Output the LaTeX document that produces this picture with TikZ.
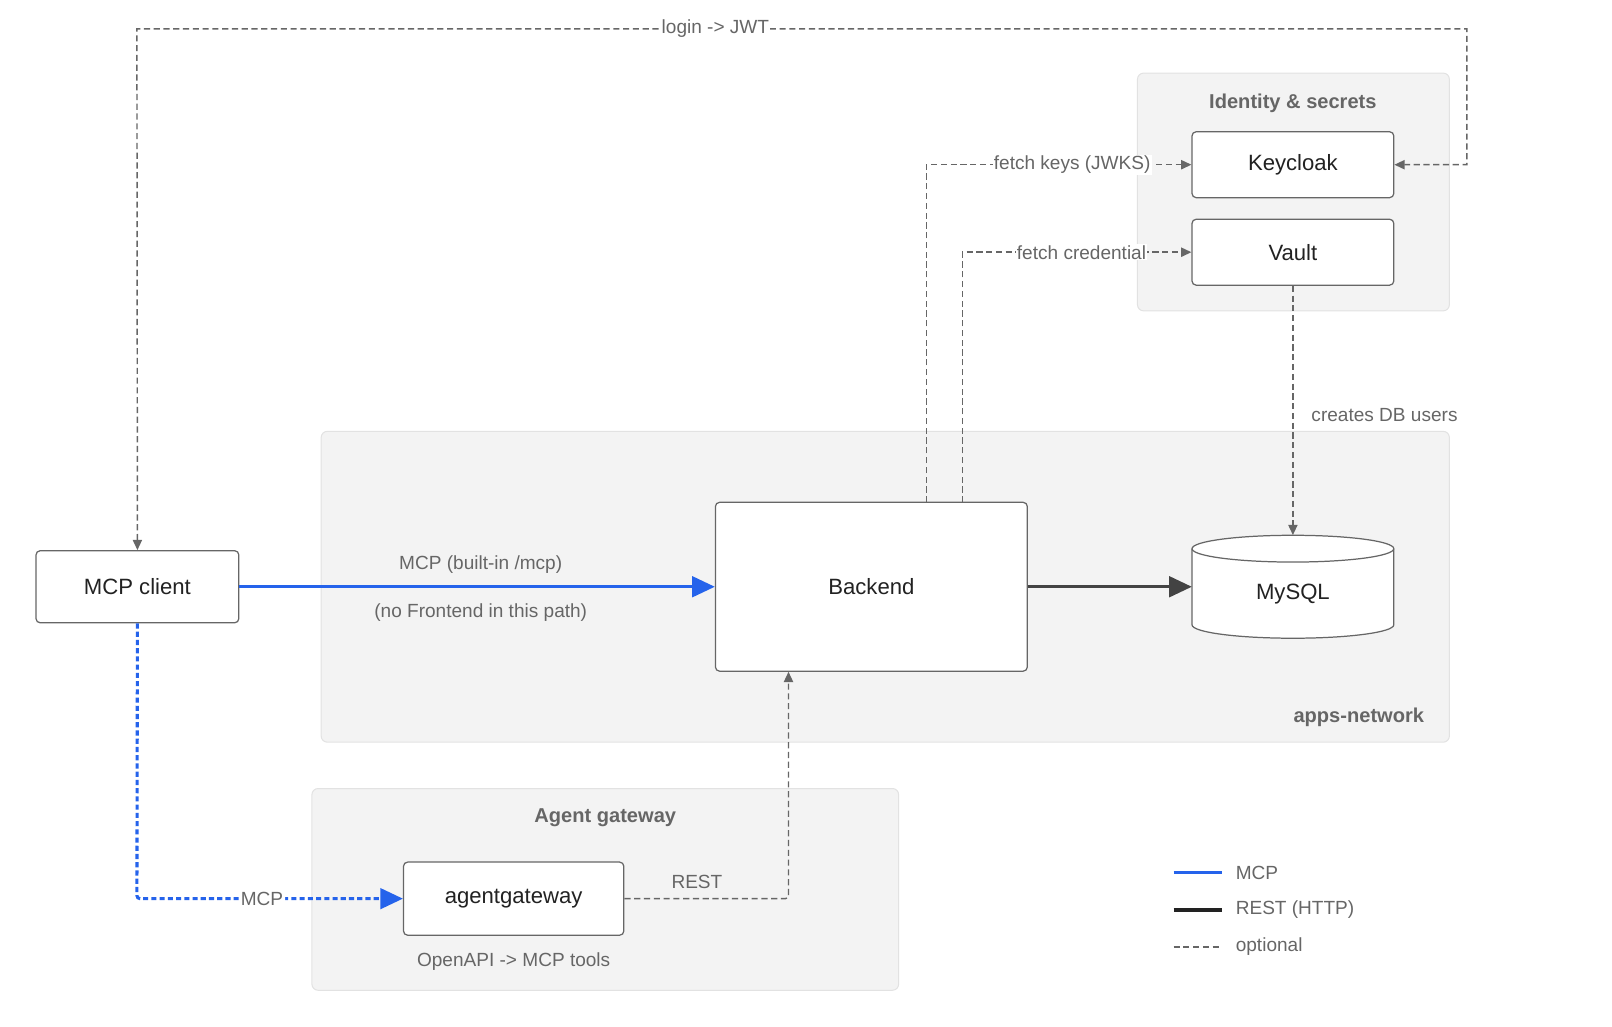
\documentclass[tikz,border=0pt]{standalone}
\usepackage{fontspec}
\setmainfont{Liberation Sans}
\usetikzlibrary{arrows.meta,shapes.geometric}
\definecolor{grp}{HTML}{F3F3F3}
\definecolor{grpb}{HTML}{E2E2E2}
\definecolor{dg}{HTML}{666666}
\definecolor{mcp}{HTML}{2563EB}
\definecolor{txt}{HTML}{222222}
\begin{document}
\begin{tikzpicture}[x=1pt,y=-1pt,
 group/.style={draw=grpb,fill=grp,rounded corners=6pt,line width=1pt},
 box/.style={draw=dg,fill=white,rounded corners=4pt,line width=1.2pt,text=txt,font=\fontsize{21.5}{25}\selectfont},
 gt/.style={text=dg,font=\bfseries\fontsize{19.5}{23}\selectfont},
 lbl/.style={text=dg,font=\fontsize{18.5}{22}\selectfont},
 opt/.style={draw=dg,dashed,dash pattern=on 6pt off 3.5pt,line width=1.4pt},
 tip/.style={-{Triangle[length=10pt,width=9pt]}},
 bigtip/.style={-{Triangle[length=22pt,width=20pt]}}]
\useasboundingbox (0,0) rectangle (1566,997);
% groups
\node[group,minimum width=303pt,minimum height=231pt] (gid) at (1256.5,186.5) {};
\node[gt] (gidt) at (1256,100) {Identity \& secrets};
\node[group,minimum width=1096pt,minimum height=302pt] (gapp) at (860,570) {};
\node[gt] (gappt) at (1320,697) {apps-network};
\node[group,minimum width=570pt,minimum height=196pt] (gag) at (588,864) {};
\node[gt] (gagt) at (588,794) {Agent gateway};
% nodes
\node[box,minimum width=196pt,minimum height=64pt] (kc) at (1256,160) {Keycloak};
\node[box,minimum width=196pt,minimum height=64pt] (vault) at (1256,245) {Vault};
\node[box,minimum width=303pt,minimum height=164pt] (be) at (846.5,570) {Backend};
\node[box,minimum width=197pt,minimum height=70pt] (cl) at (133.5,570) {MCP client};
\node[box,minimum width=214pt,minimum height=71pt] (ag) at (499,873) {agentgateway};
\node[lbl] (agl) at (499,934) {OpenAPI -> MCP tools};
% cylinder
\filldraw[draw=dg,fill=white,line width=1.2pt] (1158,533) -- (1158,607) arc[start angle=180,end angle=360,x radius=98pt,y radius=13pt] -- (1354,533) arc[start angle=0,end angle=180,x radius=98pt,y radius=13pt] -- cycle;
\draw[dg,line width=1.2pt] (1158,533) arc[start angle=180,end angle=360,x radius=98pt,y radius=13pt];
\node[minimum width=196pt,minimum height=100pt,inner sep=0pt] (db) at (1256,570) {};
\node[text=txt,font=\fontsize{21.5}{25}\selectfont] (dbt) at (1256,577) {MySQL};
% connectors
\coordinate (l1) at (133,28); \coordinate (l2) at (1425,28); \coordinate (l3) at (1425,160);
\draw[opt,{Triangle[length=10pt,width=9pt]}-{Triangle[length=10pt,width=9pt]}] (cl.north) -- (l1) -- (l2) -- (l3) -- (kc.east);
\node[lbl,fill=white,inner sep=1pt] (lj) at (695,28) {login -> JWT};
\coordinate (f1) at (900,488); \coordinate (f2) at (900,160);
\draw[opt,tip] (f1) -- (f2) -- (kc.west) node[lbl,pos=0.55,fill=white,inner sep=1pt]{fetch keys (JWKS)};
\coordinate (c1) at (935,488); \coordinate (c2) at (935,245);
\draw[opt,tip] (c1) -- (c2) -- (vault.west) node[lbl,pos=0.52,fill=white,inner sep=1pt]{fetch credential};
\draw[opt,tip] (vault.south) -- (db.north);
\node[lbl] (cdb) at (1345,403) {creates DB users};
\draw[mcp,line width=3pt,bigtip] (cl.east) -- (be.west);
\node[lbl] (m1) at (467,548) {MCP (built-in /mcp)};
\node[lbl] (m2) at (467,595) {(no Frontend in this path)};
\draw[draw=txt!85,line width=3pt,bigtip] (be.east) -- (db.west);
\coordinate (a1) at (133,873);
\draw[mcp,line width=3pt,dash pattern=on 5pt off 3pt,-{Triangle[length=22pt,width=20pt]},rounded corners=3pt] (cl.south) -- (a1) -- (ag.west) node[lbl,pos=0.47,fill=white,inner sep=2pt]{MCP};
\coordinate (r1) at (766,873);
\draw[opt,tip,rounded corners=3pt] (ag.east) -- (r1) -- (r1 |- be.south);
\node[lbl] (rl) at (677,857) {REST};
% legend
\coordinate (g1) at (1140,848); \coordinate (g2) at (1187,848);
\coordinate (g3) at (1140,884); \coordinate (g4) at (1187,884);
\coordinate (g5) at (1140,920); \coordinate (g6) at (1187,920);
\draw[mcp,line width=3pt] (g1) -- (g2);
\draw[txt,line width=3pt] (g3) -- (g4);
\draw[opt] (g5) -- (g6);
\node[lbl,anchor=west] (lg1) at (1197,848) {MCP};
\node[lbl,anchor=west] (lg2) at (1197,884) {REST (HTTP)};
\node[lbl,anchor=west] (lg3) at (1197,920) {optional};
\end{tikzpicture}
\end{document}
